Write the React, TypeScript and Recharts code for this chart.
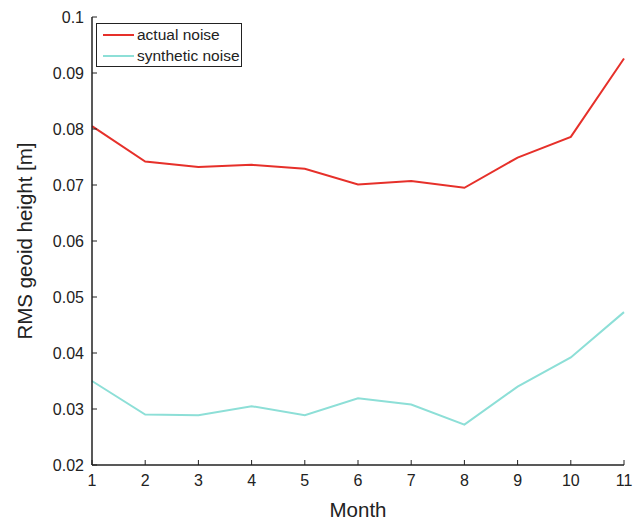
import { Line, LineChart, XAxis, YAxis } from "recharts";

const months = [1, 2, 3, 4, 5, 6, 7, 8, 9, 10, 11];
const actualNoise = [0.0805, 0.0742, 0.0732, 0.0736, 0.0729, 0.0701, 0.0707, 0.0695, 0.0749, 0.0786, 0.0926];
const syntheticNoise = [0.035, 0.029, 0.0289, 0.0305, 0.0289, 0.0319, 0.0308, 0.0272, 0.034, 0.0392, 0.0473];
const yTicks = [0.02, 0.03, 0.04, 0.05, 0.06, 0.07, 0.08, 0.09, 0.1];
const seriesNames = ["actual noise", "synthetic noise"];

const data = months.map((m, i) => ({ month: m, actual: actualNoise[i], synthetic: syntheticNoise[i] }));

const font = "'Liberation Sans', Arial, Helvetica, sans-serif";
const RED = "#e6302a";
const CYAN = "#8ddfd7";

const BottomTick = (props: any) => {
    const { x, y, payload } = props;
    return (
        <g>
            <line x1={x} x2={x} y1={y} y2={y - 5} stroke="#222" strokeWidth={1} />
            <text x={x} y={y + 21} textAnchor="middle" fontSize={16} fontFamily={font} fill="#222">
                {payload.value}
            </text>
        </g>
    );
};

const TopTick = (props: any) => {
    const { x, y } = props;
    return <line x1={x} x2={x} y1={y} y2={y + 5} stroke="#222" strokeWidth={1} />;
};

const LeftTick = (props: any) => {
    const { x, y, payload } = props;
    return (
        <g>
            <line x1={x} x2={x + 5} y1={y} y2={y} stroke="#222" strokeWidth={1} />
            <text x={x - 8} y={y} dy="0.36em" textAnchor="end" fontSize={16} fontFamily={font} fill="#222">
                {payload.value}
            </text>
        </g>
    );
};

const RightTick = (props: any) => {
    const { x, y } = props;
    return <line x1={x} x2={x - 5} y1={y} y2={y} stroke="#222" strokeWidth={1} />;
};

const LegendBox = () => (
    <div
        style={{
            position: "absolute",
            left: 96,
            top: 23,
            border: "1px solid #222",
            background: "#fff",
            width: 144,
            height: 42,
            fontFamily: font,
            fontSize: 15.5,
            color: "#222",
        }}
    >
        {seriesNames.map((label, i) => (
            <div key={label} style={{ display: "flex", alignItems: "center", height: 20, marginTop: 1 }}>
                <div style={{ width: 31, height: 2, background: i === 0 ? RED : CYAN, marginLeft: 6, marginRight: 3 }} />
                <span style={{ lineHeight: "20px" }}>{label}</span>
            </div>
        ))}
    </div>
);

export default function App() {
    return (
        <div style={{ position: "absolute", left: 0, top: 0, width: 640, height: 522, background: "#fff" }}>
            <LineChart width={640} height={522} data={data} margin={{ top: 17, right: 16, left: 0, bottom: 0 }}>
                <XAxis
                    dataKey="month"
                    type="number"
                    domain={[1, 11]}
                    ticks={months}
                    interval={0}
                    height={57}
                    tickSize={0}
                    tickMargin={0}
                    tickLine={false}
                    tick={<BottomTick />}
                    axisLine={{ stroke: "#222", strokeWidth: 1.5 }}
                    label={{ value: "Month", position: "insideBottom", offset: 5, fontSize: 20.5, fontFamily: font, fill: "#222" }}
                />
                <XAxis
                    xAxisId="top"
                    orientation="top"
                    dataKey="month"
                    type="number"
                    domain={[1, 11]}
                    ticks={months}
                    interval={0}
                    height={0}
                    tickSize={0}
                    tickMargin={0}
                    tickLine={false}
                    tick={<TopTick />}
                    axisLine={{ stroke: "#222", strokeWidth: 1.5 }}
                />
                <YAxis
                    type="number"
                    domain={[0.02, 0.1]}
                    ticks={yTicks}
                    interval={0}
                    width={92}
                    tickSize={0}
                    tickMargin={0}
                    tickLine={false}
                    tick={<LeftTick />}
                    axisLine={{ stroke: "#222", strokeWidth: 1.5 }}
                    label={{
                        value: "RMS geoid height [m]",
                        angle: -90,
                        position: "insideLeft",
                        offset: 25,
                        style: { textAnchor: "middle" },
                        fontSize: 20.5,
                        fontFamily: font,
                        fill: "#222",
                    }}
                />
                <YAxis
                    yAxisId="right"
                    orientation="right"
                    type="number"
                    domain={[0.02, 0.1]}
                    ticks={yTicks}
                    interval={0}
                    width={0}
                    tickSize={0}
                    tickMargin={0}
                    tickLine={false}
                    tick={<RightTick />}
                    axisLine={{ stroke: "#222", strokeWidth: 1.5 }}
                />
                <Line dataKey="actual" name={seriesNames[0]} stroke={RED} strokeWidth={2} dot={false} isAnimationActive={false} />
                <Line dataKey="synthetic" name={seriesNames[1]} stroke={CYAN} strokeWidth={2} dot={false} isAnimationActive={false} />
            </LineChart>
            <LegendBox />
        </div>
    );
}
